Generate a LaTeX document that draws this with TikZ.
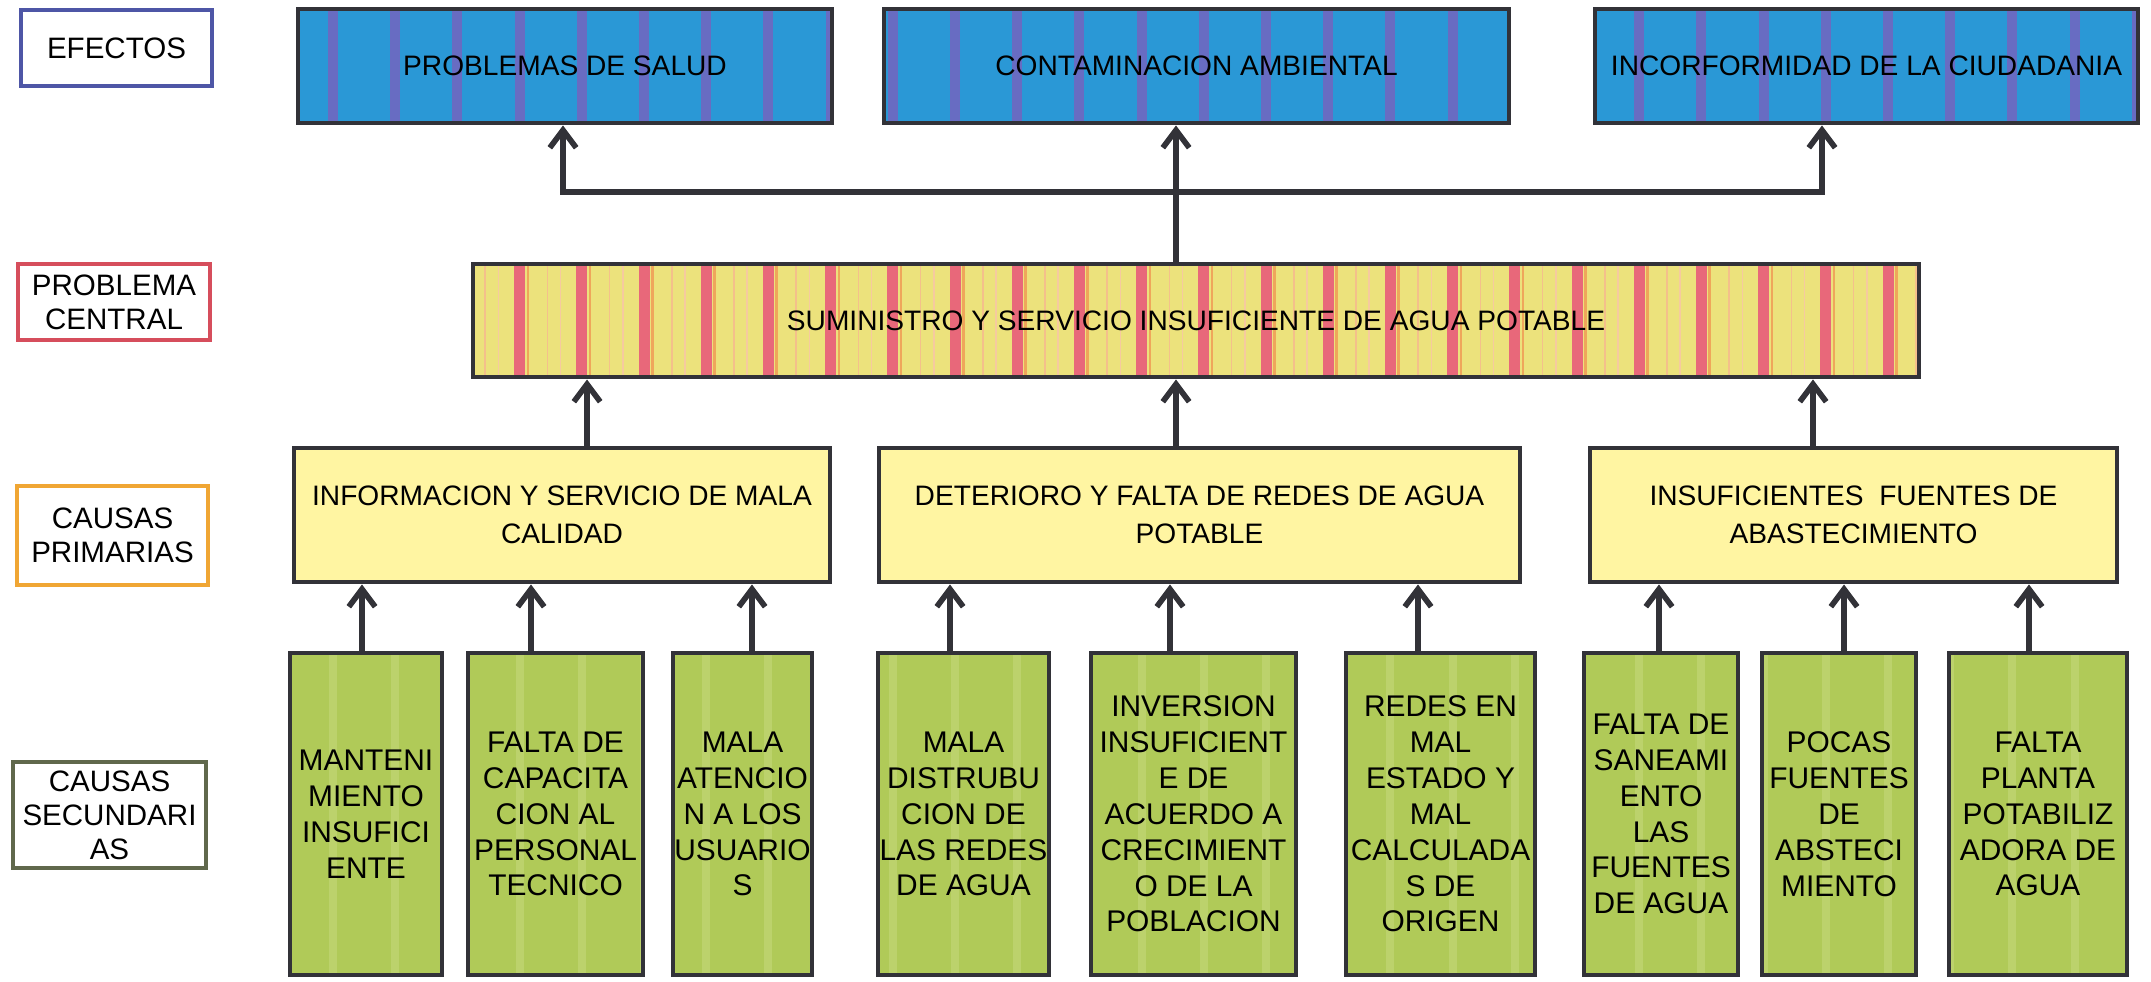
\documentclass[tikz,border=0pt]{standalone}
\usepackage{fontspec}
\setmainfont{Liberation Sans}
\usetikzlibrary{arrows.meta}
\definecolor{azul}{RGB}{42,152,214}
\definecolor{azulraya}{RGB}{104,108,194}
\definecolor{amarillo}{RGB}{236,226,124}
\definecolor{rojoraya}{RGB}{232,104,122}
\definecolor{naranja}{RGB}{236,150,62}
\definecolor{crema}{RGB}{255,245,162}
\definecolor{verde}{RGB}{176,202,88}
\definecolor{verdeclaro}{RGB}{188,210,108}
\definecolor{borde}{RGB}{50,50,56}
\definecolor{bordeA}{RGB}{78,86,166}
\definecolor{bordeB}{RGB}{214,78,92}
\definecolor{bordeC}{RGB}{240,166,52}
\definecolor{bordeD}{RGB}{96,104,76}
\tikzset{
  caja/.style={draw=borde, line width=1.4pt, inner sep=0pt, align=center},
  etiqueta/.style={draw=#1, line width=1.2pt, inner sep=0pt, align=center, fill=white, font=\fontsize{8.4}{9.7}\selectfont},
  efecto/.style={caja, font=\fontsize{8}{10}\selectfont},
  primaria/.style={caja, fill=crema, font=\fontsize{8}{10.9}\selectfont},
  secundaria/.style={caja, font=\fontsize{8.5}{10.2}\selectfont},
  flecha/.style={draw=borde, line width=1.6pt, -{Straight Barb[length=5pt,width=7.5pt]}}
}
% caja: estilo nombre x1 y1 x2 y2 texto
\newcommand{\caja}[7]{\node[#1, minimum width={(#5-#3)*0.01cm}, minimum height={(#6-#4)*0.01cm}] (#2) at ({(#3+#5)/2},{(#4+#6)/2}) {#7};}
% fondo con rayas verticales: x1 y1 x2 y2 color raya ancho
\newcommand{\fondo}[7]{\fill[#5] (#1,#2) rectangle (#3,#4);
  \begin{scope}
    \clip (#1,#2) rectangle (#3,#4);
    \foreach \k in {-1,...,29} \fill[#6] (333+62.2*\k-#7/2,#2) rectangle (333+62.2*\k+#7/2,#4);
  \end{scope}}
\newcommand{\causa}[4]{\fondo{#2}{653}{#3}{975}{verde}{verdeclaro}{8}
  \caja{secundaria}{#1}{#2}{653}{#3}{975}{#4}}

\begin{document}
\begin{tikzpicture}[x=0.01cm, y=-0.01cm]
  \useasboundingbox (0,0) rectangle (2151,981);
  % etiquetas
  \caja{etiqueta=bordeA}{l1}{21}{10}{212}{86}{EFECTOS}
  \caja{etiqueta=bordeB}{l2}{18}{264}{210}{340}{PROBLEMA\\CENTRAL}
  \caja{etiqueta=bordeC}{l3}{17}{486}{208}{585}{CAUSAS\\PRIMARIAS}
  \caja{etiqueta=bordeD}{l4}{13}{762}{206}{868}{CAUSAS\\SECUNDARI\\AS}
  % efectos
  \fondo{298}{9}{832}{123}{azul}{azulraya}{10}
  \fondo{884}{9}{1509}{123}{azul}{azulraya}{10}
  \fondo{1595}{9}{2138}{123}{azul}{azulraya}{10}
  \caja{efecto}{e1}{298}{9}{832}{123}{PROBLEMAS DE SALUD}
  \caja{efecto}{e2}{884}{9}{1509}{123}{CONTAMINACION AMBIENTAL}
  \caja{efecto}{e3}{1595}{9}{2138}{123}{INCORFORMIDAD DE LA CIUDADANIA}
  % problema central
  \fondo{473}{264}{1919}{377}{amarillo}{rojoraya}{11}
  \begin{scope}
    \clip (473,264) rectangle (1919,377);
    \foreach \k in {-4,...,25} {
      \fill[naranja!85] (333+62.2*\k+7,264) rectangle ++(2.5,113);
      \fill[naranja!60] (333+62.2*\k+27,264) rectangle ++(1.5,113);
      \fill[naranja!50] (333+62.2*\k-22,264) rectangle ++(1.5,113);
    }
  \end{scope}
  \caja{efecto}{cp}{473}{264}{1919}{377}{SUMINISTRO Y SERVICIO INSUFICIENTE DE AGUA POTABLE}
  % causas primarias
  \caja{primaria}{p1}{294}{448}{830}{582}{INFORMACION Y SERVICIO DE MALA\\CALIDAD}
  \caja{primaria}{p2}{879}{448}{1520}{582}{DETERIORO Y FALTA DE REDES DE AGUA\\POTABLE}
  \caja{primaria}{p3}{1590}{448}{2117}{582}{INSUFICIENTES\ \ FUENTES DE\\ABASTECIMIENTO}
  % causas secundarias
  \causa{s1}{290}{442}{MANTENI\\MIENTO\\INSUFICI\\ENTE}
  \causa{s2}{468}{643}{FALTA DE\\CAPACITA\\CION AL\\PERSONAL\\TECNICO}
  \causa{s3}{673}{812}{MALA\\ATENCIO\\N A LOS\\USUARIO\\S}
  \causa{s4}{878}{1049}{MALA\\DISTRUBU\\CION DE\\LAS REDES\\DE AGUA}
  \causa{s5}{1091}{1296}{INVERSION\\INSUFICIENT\\E DE\\ACUERDO A\\CRECIMIENT\\O DE LA\\POBLACION}
  \causa{s6}{1346}{1535}{REDES EN\\MAL\\ESTADO Y\\MAL\\CALCULADA\\S DE\\ORIGEN}
  \causa{s7}{1584}{1738}{FALTA DE\\SANEAMI\\ENTO\\LAS\\FUENTES\\DE AGUA}
  \causa{s8}{1762}{1916}{POCAS\\FUENTES\\DE\\ABSTECI\\MIENTO}
  \causa{s9}{1949}{2127}{FALTA\\PLANTA\\POTABILIZ\\ADORA DE\\AGUA}
  % flechas
  \coordinate (junta) at (1176,192);
  \draw[flecha] (cp.north -| junta) -- (e2.south -| junta);
  \draw[flecha] (junta) -| ([xshift=-0.2mm]e1.south);
  \draw[flecha] (junta) -| ([xshift=-4.45mm]e3.south);
  \foreach \p/\d in {p1/2.5, p2/-2.35, p3/-4.05}
    \draw[flecha] ([xshift=\d mm]\p.north) coordinate (t) -- (t |- cp.south);
  \foreach \s/\p/\d in {s1/p1/-0.4, s2/p1/-2.45, s3/p1/0.95, s4/p2/-1.35, s5/p2/-2.35, s6/p2/-2.25, s7/p3/-0.2, s8/p3/0.5, s9/p3/-0.9}
    \draw[flecha] ([xshift=\d mm]\s.north) coordinate (t) -- (t |- \p.south);
\end{tikzpicture}
\end{document}
